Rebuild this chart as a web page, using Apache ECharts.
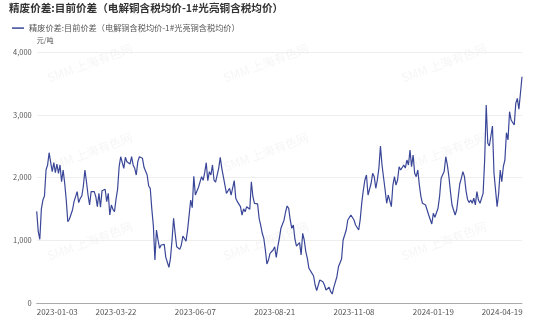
<!DOCTYPE html>
<html><head><meta charset="utf-8">
<script src="https://cdn.jsdelivr.net/npm/echarts@6/dist/echarts.min.js"></script>
<style>html,body{margin:0;padding:0;background:#fff}#c{width:554px;height:319px}</style>
</head><body><div id="c"></div>
<script>
// ---- data ----
const titleText = '精废价差:目前价差（电解铜含税均价-1#光亮铜含税均价）';
const seriesName = '精废价差:目前价差（电解铜含税均价-1#光亮铜含税均价）';
const unitName = '元/吨';
const startDate = '2023-01-03';
// weekdays with no quote
const closedDays = ['2023-01-23','2023-01-24','2023-01-25','2023-01-26','2023-01-27',
  '2023-04-05','2023-05-01','2023-05-02','2023-05-03','2023-06-22','2023-06-23',
  '2023-09-29','2023-10-02','2023-10-03','2023-10-04','2023-10-05','2023-10-06',
  '2024-01-01','2024-02-05','2024-02-06','2024-02-07','2024-02-08','2024-02-09',
  '2024-02-12','2024-02-13','2024-02-14','2024-02-15','2024-02-16','2024-02-19','2024-02-20',
  '2024-04-04','2024-04-05'];
const spreadValues = [
1460,1136,1015,1500,1641,1705,2120,2200,2395,2236,
2093,2236,2077,2215,2067,2200,1933,2120,1908,1641,
1296,1334,1323,1482,1615,1641,1774,1599,1668,1705,
1865,2120,1933,1721,1562,1774,1748,1774,1694,1535,
1748,1525,1790,1801,1812,1615,1748,1402,1562,1493,
1455,1653,1812,2172,2331,2306,2146,2322,2252,2279,
2215,2331,2200,2146,2040,2252,2331,2347,2306,2162,
2172,2040,1865,1828,1500,1230,685,1163,1004,872,
924,940,935,728,750,569,712,1000,1350,1111,
897,908,855,924,1068,1084,985,1163,1400,1641,
1520,2020,1720,1694,1844,1828,2013,1955,2077,2236,
1949,2093,2040,2200,1960,1928,1908,2146,2322,2146,
2013,1880,1748,1721,1828,1721,1694,1950,1668,1615,
1589,1535,1402,1500,1455,1535,1562,1493,1933,1694,
1589,1562,1580,1350,1240,1111,1031,845,622,685,
792,765,845,897,728,897,1031,1190,1216,1320,
1450,1546,1509,1323,1190,1243,1020,908,888,961,
765,1111,1004,820,712,553,537,473,430,287,
196,180,367,367,340,287,207,190,250,180,
143,250,234,419,578,590,700,1004,977,1163,
1323,1350,1402,1418,1323,1243,1216,1163,1334,1600,
1801,1960,2040,1720,1700,1908,2067,2013,1828,1960,
2150,2500,2200,2000,1800,1589,1721,1694,1535,1880,
2013,1880,1960,2172,2120,2160,2200,2150,2279,2200,
2438,2172,2359,2067,2013,2120,1880,1700,1589,1600,
1562,1535,1402,1375,1259,1429,1366,1375,1509,1694,
1987,2013,2100,2331,2200,2013,1774,1562,1535,1402,
1482,1455,1900,1987,2093,2013,1790,1650,1600,1641,
1590,1670,1562,1774,1640,1589,1562,1748,2279,3155,
2545,2502,2518,2821,2067,2040,1535,1748,2120,1933,
2172,2279,2714,2598,3049,2916,2906,2837,3181,3262,
3087,3342,3606];
const yMin = 0, yMax = 4000, yStep = 1000;
const labelEvery = 51;
const watermarkText = 'SMM 上海有色网';

// ---- categories: quote days ----
function pad(n){return (n<10?'0':'')+n;}
function fmt(d){return d.getUTCFullYear()+'-'+pad(d.getUTCMonth()+1)+'-'+pad(d.getUTCDate());}
function buildDates(start, n, closed){
  const set = new Set(closed); const out=[];
  const d = new Date(start+'T00:00:00Z');
  while(out.length<n){
    const wd=d.getUTCDay(); const s=fmt(d);
    if(wd!==0 && wd!==6 && !set.has(s)) out.push(s);
    d.setUTCDate(d.getUTCDate()+1);
  }
  return out;
}
const dates = buildDates(startDate, spreadValues.length, closedDays);
const lastLabelIdx = Math.floor((dates.length-1)/labelEvery)*labelEvery;

const FONT = '"Noto Sans CJK SC","Noto Sans",sans-serif';
const chart = echarts.init(document.getElementById('c'), null, {renderer:'canvas'});

const wmX = [90, 266, 444], wmY = [63, 152, 241];
const graphics = [];
wmX.forEach(x => wmY.forEach(y => graphics.push({
  type:'text', x:x, y:y, rotation: 20*Math.PI/180, z: 0, silent:true,
  style:{text: watermarkText, fill:'rgba(0,0,0,0.045)', font:'12px '+FONT, align:'center', verticalAlign:'middle'}
})));

chart.setOption({
  animation:false,
  textStyle:{fontFamily:FONT},
  title:{text:titleText, left:9, top:3, padding:0,
    textStyle:{fontSize:10.6, fontWeight:'bold', color:'#333', fontFamily:FONT}},
  legend:{left:12, top:24, padding:0, icon:'rect', itemWidth:12, itemHeight:1.5, itemGap:5,
    textStyle:{fontSize:8.2, color:'#555', fontFamily:FONT}},
  graphic: graphics,
  grid:{left:36.7, right:32, top:52, bottom:16, containLabel:false},
  xAxis:{type:'category', data:dates, boundaryGap:false,
    axisLine:{lineStyle:{color:'#aaa', width:1}},
    axisTick:{show:false},
    axisLabel:{interval:labelEvery-1, fontSize:8, color:'#555', margin:5, alignMinLabel:'left',
      formatter:function(v, i){ return i===lastLabelIdx ? '{last|'+v+'}' : v; },
      rich:{last:{fontSize:8, color:'#555', padding:[0,21,0,0]}}},
    splitLine:{show:false}},
  yAxis:{type:'value', min:yMin, max:yMax, interval:yStep,
    name:unitName, nameLocation:'end', nameGap:8,
    nameTextStyle:{fontSize:7, color:'#555', align:'left'},
    axisLine:{show:false}, axisTick:{show:false},
    axisLabel:{fontSize:7.5, color:'#555', margin:5,
      formatter:function(v){return v.toLocaleString('en-US');}},
    splitLine:{lineStyle:{color:'#eee', width:1}}},
  series:[{name:seriesName, type:'line', data:spreadValues, symbol:'none',
    lineStyle:{color:'#3a4798', width:1.2}, itemStyle:{color:'#3a4798'}}]
});
</script></body></html>
